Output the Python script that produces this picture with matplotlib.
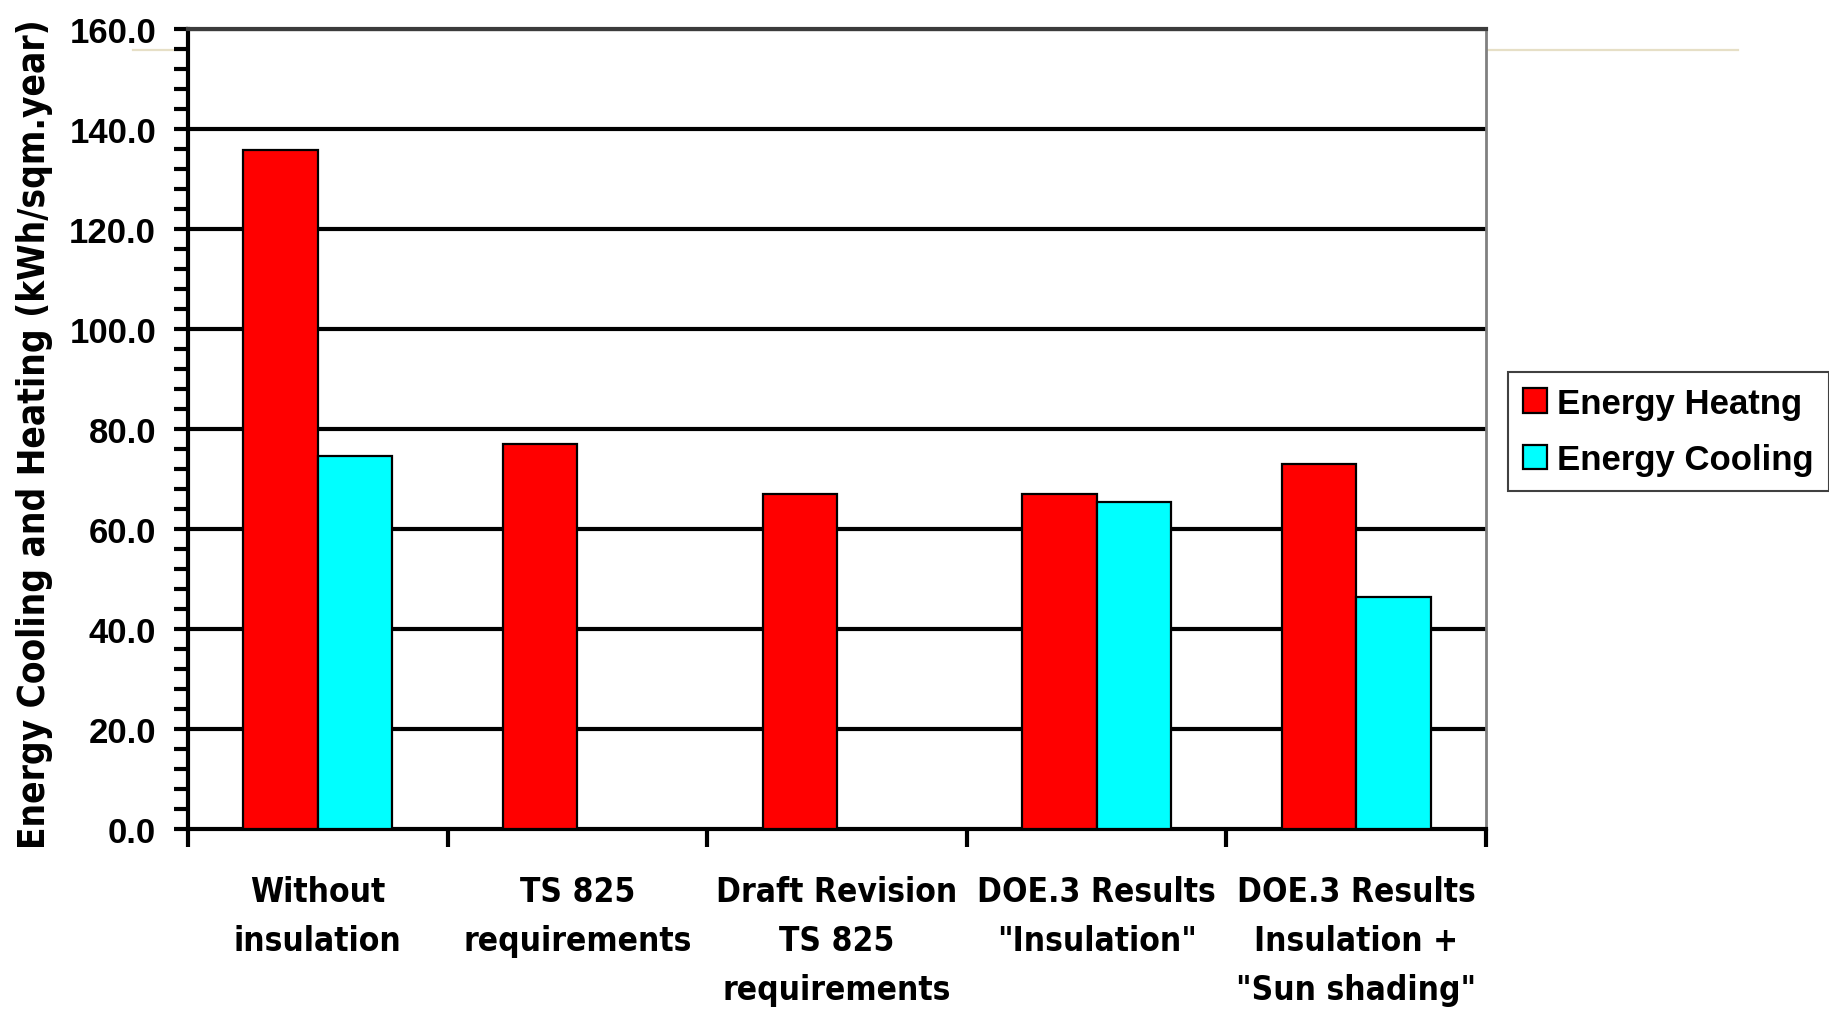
import matplotlib
matplotlib.use("Agg")
import matplotlib.pyplot as plt
from matplotlib import font_manager
from matplotlib.font_manager import FontProperties
from matplotlib.lines import Line2D
from matplotlib.ticker import MultipleLocator, FixedLocator, NullFormatter, FixedFormatter
import numpy as np

categories = [
    "Without\ninsulation",
    "TS 825\nrequirements",
    "Draft Revision\nTS 825\nrequirements",
    "DOE.3 Results\n\"Insulation\"",
    "DOE.3 Results\nInsulation +\n\"Sun shading\"",
]
heating = [135.7, 77.0, 67.0, 67.0, 73.0]
cooling = [74.7, 0.0, 0.0, 65.5, 46.5]
series_labels = ["Energy Heatng", "Energy Cooling"]
y_ticks = [0, 20, 40, 60, 80, 100, 120, 140, 160]
y_label = "Energy Cooling and Heating (kWh/sqm.year)"


def find_narrow_bold():
    """Return the file of a condensed bold sans face, if one is installed."""
    prefs = ["LiberationSansNarrow-Bold", "DejaVuSansCondensed-Bold",
             "RobotoCondensed-Bold", "Roboto_Condensed-Bold",
             "OpenSans_Condensed-Bold", "OpenSansCondensed-Bold",
             "NotoSans-CondensedBold"]
    files = [f.fname for f in font_manager.fontManager.ttflist]
    for p in prefs:
        for fn in files:
            base = fn.split("/")[-1]
            if base.startswith(p):
                return fn
    for fn in files:
        low = fn.lower()
        if ("narrow" in low or "condensed" in low) and "bold" in low and "italic" not in low and "oblique" not in low:
            return fn
    return None


narrow_file = find_narrow_bold()
if narrow_file:
    narrow_fp = lambda size: FontProperties(fname=narrow_file, size=size)
    cat_size, ylab_size = 24, 26.5
else:
    narrow_fp = lambda size: FontProperties(family="Liberation Sans", weight="bold", size=size)
    cat_size, ylab_size = 23, 21

fig = plt.figure(figsize=(18.29, 10.12), dpi=100)
fig.patch.set_facecolor("white")

# thin decorative rule running behind the plot area
fig.add_artist(Line2D([0.0727, 0.950], [0.9499, 0.9499], color="#e6dfc6",
                      linewidth=1.6, zorder=-1, transform=fig.transFigure))

ax = fig.add_axes([0.1028, 0.1798, 0.7097, 0.7906])
ax.set_facecolor("white")
ax.set_zorder(1)

x = np.arange(len(categories))
w = 0.287
ax.bar(x - w / 2, heating, width=w, color="#ff0000", edgecolor="black",
       linewidth=1.6, label=series_labels[0], zorder=3)
ax.bar(x + w / 2, cooling, width=w, color="#00ffff", edgecolor="black",
       linewidth=1.6, label=series_labels[1], zorder=3)

ax.set_xlim(-0.5, len(categories) - 0.5)
ax.set_ylim(0, 160)

# horizontal grid
for v in y_ticks[1:]:
    ax.axhline(v, color="black", linewidth=3.0, zorder=1)

# y axis ticks
ax.yaxis.set_major_locator(FixedLocator(y_ticks))
ax.yaxis.set_major_formatter(FixedFormatter([f"{v:.1f}" for v in y_ticks]))
ax.yaxis.set_minor_locator(MultipleLocator(4))
ax.tick_params(axis="y", which="major", direction="out", length=10, width=3,
               pad=13, labelsize=25)
ax.tick_params(axis="y", which="minor", direction="out", length=10, width=3)
for lab in ax.get_yticklabels():
    lab.set_fontfamily("Liberation Sans")
    lab.set_fontweight("bold")

# x axis: boundary ticks, category names centred
ax.xaxis.set_major_locator(FixedLocator(np.arange(-0.5, len(categories), 1.0)))
ax.xaxis.set_major_formatter(NullFormatter())
ax.xaxis.set_minor_locator(FixedLocator(x))
ax.xaxis.set_minor_formatter(FixedFormatter(categories))
ax.tick_params(axis="x", which="major", direction="out", length=13, width=3)
ax.tick_params(axis="x", which="minor", length=0, pad=33)
for lab in ax.get_xticklabels(minor=True):
    lab.set_fontproperties(narrow_fp(cat_size))
    lab.set_linespacing(1.62)
    lab.set_horizontalalignment("center")
    lab.set_multialignment("center")

ax.spines["left"].set_linewidth(3)
ax.spines["bottom"].set_linewidth(3)
ax.spines["left"].set_color("black")
ax.spines["bottom"].set_color("black")
ax.spines["top"].set_linewidth(3)
ax.spines["top"].set_color("#3c3c3c")
ax.spines["right"].set_linewidth(2)
ax.spines["right"].set_color("#808080")

ax.set_ylabel(y_label, fontproperties=narrow_fp(ylab_size))
ax.yaxis.set_label_coords(-0.104, 0.495)

fig.legend(loc="upper left", bbox_to_anchor=(0.8245, 0.6314),
           prop={"family": "Liberation Sans", "weight": "bold", "size": 25},
           frameon=True, fancybox=False, shadow=False, edgecolor="#404040",
           framealpha=1, handlelength=0.7, handleheight=0.7,
           handletextpad=0.3, labelspacing=0.68, borderpad=0.42,
           borderaxespad=0)
leg = fig.legends[0]
leg.get_frame().set_linewidth(1.5)

fig.savefig("out.png", dpi=100, facecolor="white")
